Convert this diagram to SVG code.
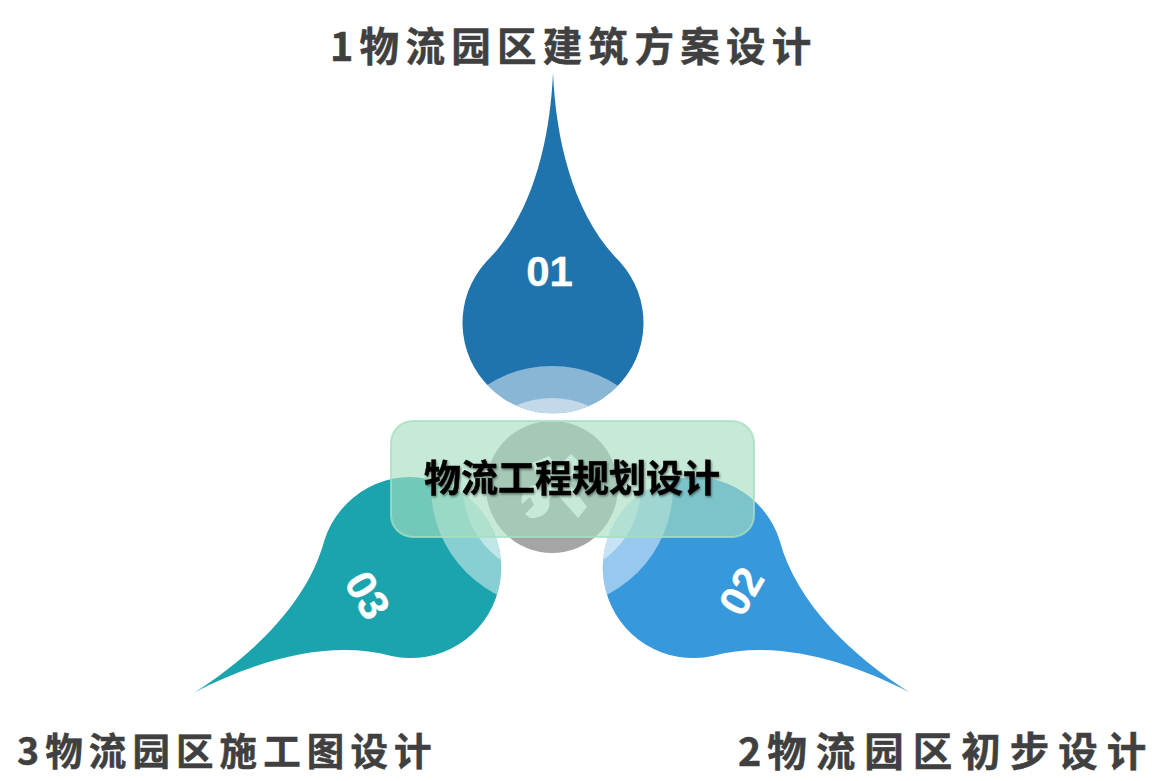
<svg xmlns="http://www.w3.org/2000/svg" width="1168" height="781" viewBox="0 0 1168 781">
<style>
.title{font-family:"Noto Sans CJK SC","Liberation Sans",sans-serif;font-weight:700;fill:#404040;stroke:#404040;stroke-width:.5px}
.num{font-family:"Liberation Sans","DejaVu Sans",sans-serif;font-weight:700;font-size:42px;fill:#fff;text-anchor:middle;stroke:#fff;stroke-width:.3px}
.center{font-family:"Noto Sans CJK SC","Liberation Sans",sans-serif;font-weight:700;font-size:37px;fill:#000;stroke:#000;stroke-width:.5px;text-anchor:middle;filter:url(#sh)}
.ring{fill:#fff;fill-opacity:.48}
</style>
<defs>
<path id="drop" d="M552,73 C555,140 572,215 619,262 A90.500,90.500 0 1 1 485,262 C532,215 549,140 552,73 Z"/>
<clipPath id="c1"><use href="#drop" x="1"/></clipPath>
<clipPath id="c2"><use href="#drop" transform="rotate(120 552 486)"/></clipPath>
<clipPath id="c3"><use href="#drop" transform="rotate(-120 552 486)"/></clipPath>
<filter id="sh" x="-5%" y="-20%" width="110%" height="140%"><feDropShadow dx="1" dy="1.500" stdDeviation="1" flood-color="#000" flood-opacity=".45"/></filter>
</defs>
<rect width="1168" height="781" fill="#fff"/>
<g id="node-1">
<use href="#drop" x="1" fill="#2074ae"/>
<g clip-path="url(#c1)"><circle class="ring" cx="552" cy="487" r="121"/><circle class="ring" cx="552" cy="487" r="89"/></g>
<text class="num" x="549.500" y="286">01</text>
</g>
<g id="node-2">
<use href="#drop" fill="#3798dc" transform="rotate(120 552 486)"/>
<g clip-path="url(#c2)"><circle class="ring" cx="552" cy="487" r="121"/><circle class="ring" cx="552" cy="487" r="89"/></g>
<text class="num" transform="translate(741 591) rotate(-60) translate(0 15)">02</text>
</g>
<g id="node-3">
<use href="#drop" fill="#1ba4ad" transform="rotate(-120 552 486) translate(0 0)"/>
<g clip-path="url(#c3)"><circle class="ring" cx="552" cy="487" r="121"/><circle class="ring" cx="552" cy="487" r="89"/></g>
<text class="num" transform="translate(368 595) rotate(60) translate(0 15)">03</text>
</g>
<g id="node-center">
<circle cx="552" cy="487" r="66" fill="#a5a5a5"/>
<g id="icon" fill="#fff">
<path d="M532,463 L549,456 L555,464 L587,507 L578,518 L541,476 L537,475 Z"/>
<path d="M571,454 L582,465 L549,499 C552,510 543,519 530,518 L525,514 L534,505 L530,497 L522,504 C519,492 530,483 540,485 Z"/>
</g>
<rect x="391" y="421" width="363" height="116" rx="22" fill="#a5dec0" fill-opacity=".636" stroke="#a5dec0" stroke-opacity=".8" stroke-width="2"/>
<text class="center" x="572" y="492">物流工程规划设计</text>
</g>
<g id="labels">
<text class="title" x="330" y="61" font-size="39.500" letter-spacing="6.300">1物流园区建筑方案设计</text>
<text class="title" x="738" y="766" font-size="39.500" letter-spacing="9">2<tspan dx="-3">物流园区初步设计</tspan></text>
<text class="title" x="17" y="765" font-size="37.500" letter-spacing="6.100">3物流园区施工图设计</text>
</g>
</svg>
